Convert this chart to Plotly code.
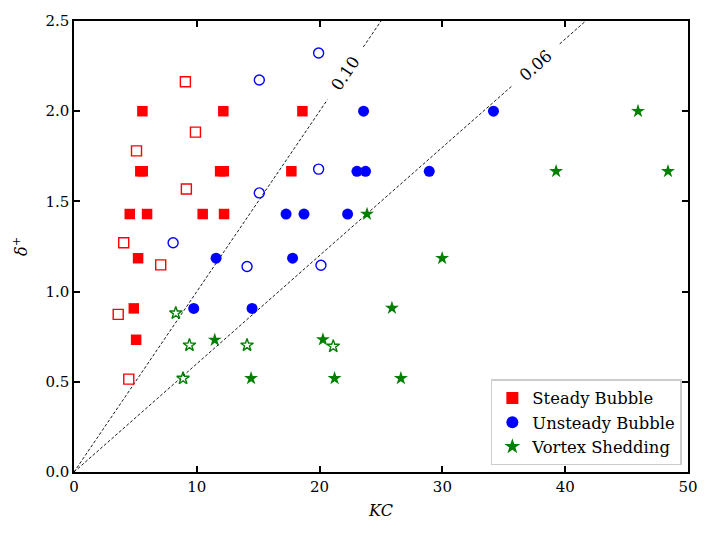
import math
import plotly.graph_objects as go

# ---- data ----
steady_filled_kc = [5.57, 12.16, 18.6, 5.4, 5.6, 11.9, 12.2, 17.7, 4.54, 5.95, 10.48, 12.22, 5.22, 4.87, 5.06]
steady_filled_d = [2.0, 2.0, 2.0, 1.667, 1.667, 1.667, 1.667, 1.667, 1.43, 1.43, 1.43, 1.43, 1.185, 0.907, 0.733]
steady_open_kc = [9.07, 9.89, 5.09, 9.15, 4.05, 7.06, 3.6, 4.46]
steady_open_d = [2.163, 1.884, 1.78, 1.569, 1.271, 1.148, 0.874, 0.515]

unsteady_filled_kc = [23.58, 34.16, 23.04, 23.74, 28.93, 17.27, 18.73, 22.28, 11.57, 17.8, 9.75, 14.5]
unsteady_filled_d = [2.0, 2.0, 1.667, 1.667, 1.667, 1.43, 1.43, 1.43, 1.185, 1.185, 0.907, 0.907]
unsteady_open_kc = [19.92, 15.09, 19.92, 15.09, 8.07, 14.09, 20.11]
unsteady_open_d = [2.323, 2.173, 1.679, 1.547, 1.271, 1.139, 1.146]

vortex_filled_kc = [45.93, 39.26, 48.37, 23.86, 29.98, 25.89, 20.27, 21.22, 26.62, 11.46, 14.42]
vortex_filled_d = [2.0, 1.667, 1.667, 1.43, 1.185, 0.909, 0.734, 0.519, 0.519, 0.732, 0.519]
vortex_open_kc = [8.29, 9.4, 14.09, 8.88, 21.11]
vortex_open_d = [0.881, 0.703, 0.703, 0.519, 0.697]

ratio_values = [0.10, 0.06]
ratio_labels = ["0.10", "0.06"]
ratio_label_kc = [22.1, 37.6]

x_range = [0, 50]
y_range = [0, 2.5]
x_ticks = [0, 10, 20, 30, 40, 50]
y_ticks = [0.0, 0.5, 1.0, 1.5, 2.0, 2.5]

# ---- layout geometry ----
W, H = 715, 536
ml, mr, mt, mb = 73.5, 27, 19, 64
pw, ph = W - ml - mr, H - mt - mb
ppu_x = pw / (x_range[1] - x_range[0])
ppu_y = ph / (y_range[1] - y_range[0])

FONT = "DejaVu Serif"
RED, BLUE, GREEN = "#ff0000", "#0000ff", "#008000"

fig = go.Figure()

# reference lines with gap for label
for slope, lab, lkc in zip(ratio_values, ratio_labels, ratio_label_kc):
    ang = math.degrees(math.atan(slope * ppu_y / ppu_x))
    half_px = 32
    dkc = half_px * math.cos(math.radians(ang)) / ppu_x
    kc_end = min(x_range[1], y_range[1] / slope)
    xs = [0, lkc - dkc, None, lkc + dkc, kc_end]
    ys = [None if v is None else slope * v for v in xs]
    fig.add_trace(go.Scatter(x=xs, y=ys, mode="lines", showlegend=False, hoverinfo="skip",
                             line=dict(color="black", width=0.9, dash="3px,2px")))
    fig.add_annotation(x=lkc, y=slope * lkc, text=lab, showarrow=False, textangle=-ang,
                       font=dict(family=FONT, size=16.5, color="black"))

def add(kc, d, name, symbol, color, size, legend, open_=False):
    fig.add_trace(go.Scatter(
        x=kc, y=d, mode="markers", name=name, showlegend=legend,
        marker=dict(symbol=symbol, size=size, color=color,
                    line=dict(color=color, width=1.4 if open_ else 0))))

add(steady_open_kc, steady_open_d, "Steady Bubble open", "square-open", RED, 10, False, True)
add(unsteady_open_kc, unsteady_open_d, "Unsteady Bubble open", "circle-open", BLUE, 10, False, True)
add(vortex_open_kc, vortex_open_d, "Vortex Shedding open", "star-open", GREEN, 9.5, False, True)
add(steady_filled_kc, steady_filled_d, "Steady Bubble", "square", RED, 10.5, True)
add(unsteady_filled_kc, unsteady_filled_d, "Unsteady Bubble", "circle", BLUE, 11, True)
add(vortex_filled_kc, vortex_filled_d, "Vortex Shedding", "star", GREEN, 10.5, True)

axis_common = dict(showline=True, linecolor="black", linewidth=1.5, mirror="ticks",
                   ticks="inside", ticklen=6, tickwidth=1.5, tickcolor="black",
                   showgrid=False, zeroline=False,
                   tickfont=dict(family=FONT, size=15, color="black"))

fig.update_layout(
    width=W, height=H,
    margin=dict(l=ml, r=mr, t=mt, b=mb),
    plot_bgcolor="white", paper_bgcolor="white",
    xaxis=dict(range=x_range, tickvals=x_ticks, ticktext=[str(v) for v in x_ticks],
               title=dict(text="<i>KC</i>", font=dict(family=FONT, size=16, color="black"), standoff=10),
               **axis_common),
    yaxis=dict(range=y_range, tickvals=y_ticks, ticktext=[f"{v:.1f}" for v in y_ticks],
               title=dict(text="<i>δ</i><sup>+</sup>", font=dict(family=FONT, size=16, color="black"), standoff=14),
               **axis_common),
    legend=dict(x=0.99, y=0.015, xanchor="right", yanchor="bottom",
                bgcolor="white", bordercolor="#cccccc", borderwidth=1.5,
                font=dict(family=FONT, size=16.4, color="black"),
                itemsizing="constant", tracegroupgap=2),
    showlegend=True,
)

fig.write_html("out.html")
